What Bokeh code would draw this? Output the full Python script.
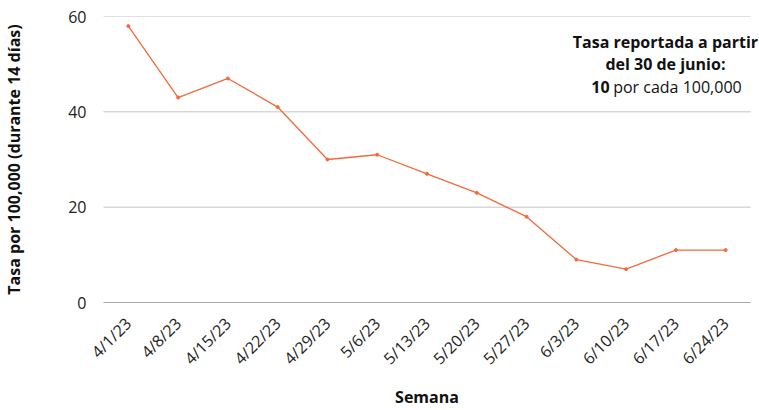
from bokeh.plotting import figure
from bokeh.models import FactorRange, Range1d, FixedTicker, Label
from bokeh.embed import file_html
from bokeh.resources import INLINE
import math

weeks = ["4/1/23", "4/8/23", "4/15/23", "4/22/23", "4/29/23", "5/6/23", "5/13/23",
         "5/20/23", "5/27/23", "6/3/23", "6/10/23", "6/17/23", "6/24/23"]
rates = [58, 43, 47, 41, 30, 31, 27, 23, 18, 9, 7, 11, 11]
y_ticks = [0, 20, 40, 60]

FONT = "Open Sans"
LINE_COLOR = "#F26A3B"

# frame widened to the right edge so the note is not clipped; padding keeps 50px per week
x_range = FactorRange(*weeks, range_padding=0.18, range_padding_units="absolute")
p = figure(width=759, height=410, x_range=x_range, y_range=Range1d(0, 60),
           output_backend="svg", toolbar_location=None,
           min_border_left=91, min_border_right=0, min_border_top=16, min_border_bottom=107)
p.outline_line_color = None
p.background_fill_color = "white"

# horizontal grid lines spanning the category area only
n = len(weeks)
grid_vals = [t for t in y_ticks if t != 0]
p.segment(x0=[0] * len(grid_vals), x1=[n] * len(grid_vals), y0=grid_vals, y1=grid_vals,
          line_color="#c4c4c4", line_width=1)
p.segment(x0=[0], x1=[n], y0=[0], y1=[0], line_color="#555555", line_width=1.2)

p.line(weeks, rates, line_color=LINE_COLOR, line_width=1.3)
p.scatter(weeks, rates, size=3, fill_color=LINE_COLOR, line_color=LINE_COLOR)

p.xgrid.grid_line_color = None
p.ygrid.grid_line_color = None
p.yaxis.ticker = FixedTicker(ticks=y_ticks)

for ax in (p.xaxis[0], p.yaxis[0]):
    ax.axis_line_color = None
    ax.major_tick_line_color = None
    ax.minor_tick_line_color = None
    ax.major_label_text_font = FONT
    ax.major_label_text_font_size = "16px"
    ax.major_label_text_color = "#222222"
    ax.axis_label_text_font = FONT
    ax.axis_label_text_font_size = "16px"
    ax.axis_label_text_font_style = "bold"
    ax.axis_label_text_color = "#111111"

p.xaxis.major_label_orientation = math.pi / 4
p.xaxis.major_label_standoff = 12
p.xaxis.axis_label = "Semana"
p.xaxis.axis_label_standoff = 6
p.yaxis.major_label_standoff = 2
p.yaxis.axis_label = "Tasa por 100,000 (durante 14 días)"
p.yaxis.axis_label_standoff = 40

lab_common = dict(text_font=FONT, text_font_size="16px", text_color="#111111",
                  text_baseline="alphabetic")
p.add_layout(Label(x=11.29, y=54.67, text="Tasa reportada a partir", text_align="center",
                   text_font_style="bold", **lab_common))
p.add_layout(Label(x=11.29, y=49.97, text="del 30 de junio:", text_align="center",
                   text_font_style="bold", **lab_common))
p.add_layout(Label(x=9.80, y=45.26, text="10", text_align="left",
                   text_font_style="bold", **lab_common))
p.add_layout(Label(x=10.24, y=45.26, text="por cada 100,000", text_align="left",
                   **lab_common))

open("out.html", "w").write(file_html(p, INLINE))
